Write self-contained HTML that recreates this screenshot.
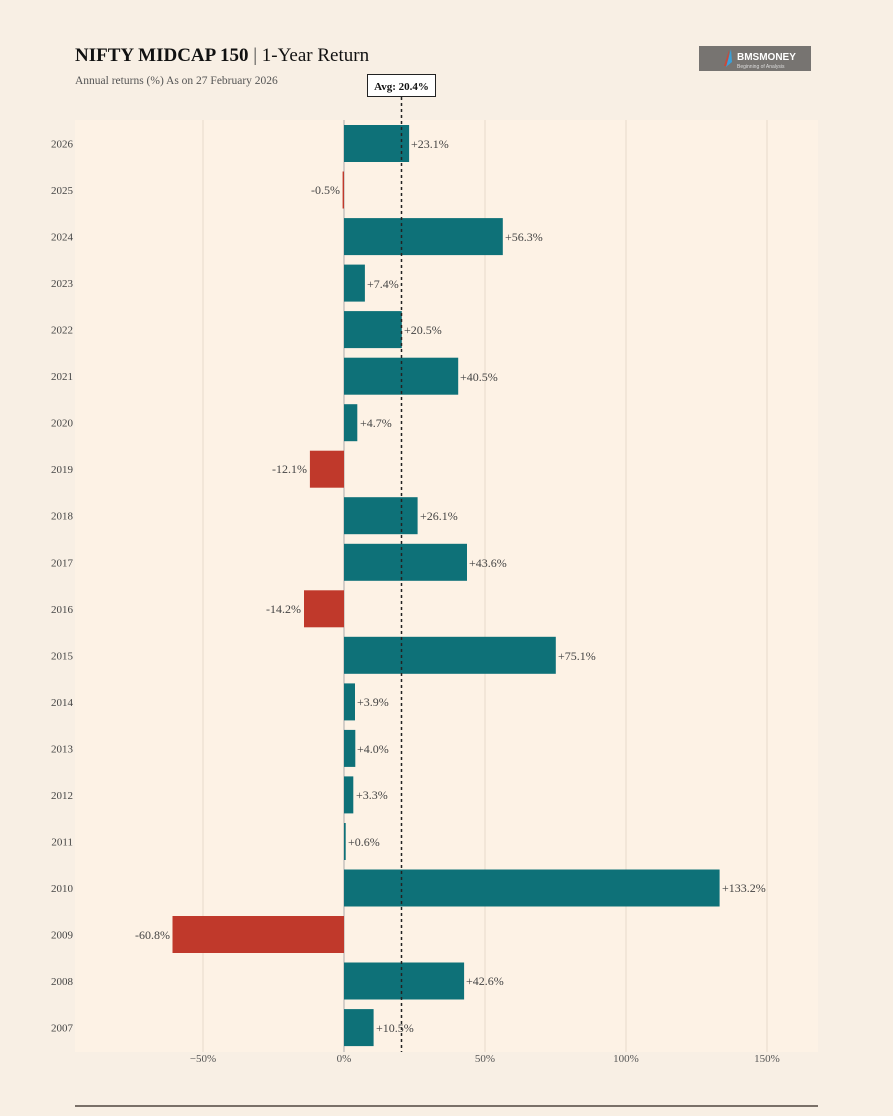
<!DOCTYPE html>
<html><head><meta charset="utf-8"><style>
html,body{margin:0;padding:0;background:#f8efe4;}
svg{display:block;font-family:"Liberation Serif",serif;}
</style></head><body>
<svg width="893" height="1116" viewBox="0 0 893 1116" xmlns="http://www.w3.org/2000/svg">
<rect x="0" y="0" width="893" height="1116" fill="#f8efe4"/>
<text x="75" y="61" font-size="19" font-weight="bold" fill="#111">NIFTY MIDCAP 150 <tspan font-weight="normal" fill="#444">|</tspan> <tspan font-weight="normal">1-Year Return</tspan></text>
<text x="75" y="84" font-size="11.5" fill="#555">Annual returns (%)   As on 27 February 2026</text>
<rect x="699" y="46" width="112" height="25" fill="#777471"/>
<path d="M729 50 L724 66 L728 66 Z" fill="#c84a3a"/><path d="M731 49 L726 67 L732 62 Z" fill="#3aa0d8"/>
<text x="737" y="60" font-size="10" font-family="Liberation Sans" font-weight="bold" fill="#fff">BMSMONEY</text>
<text x="737" y="68" font-size="5" font-family="Liberation Sans" fill="#ddd">Beginning of Analysis</text>
<rect x="75" y="120" width="743" height="932" fill="#fdf2e5"/>
<g stroke="#e6d9ca" stroke-width="1">
<line x1="203" y1="120" x2="203" y2="1052"/><line x1="485" y1="120" x2="485" y2="1052"/><line x1="626" y1="120" x2="626" y2="1052"/><line x1="767" y1="120" x2="767" y2="1052"/>
</g>
<line x1="344" y1="120" x2="344" y2="1052" stroke="#aaa" stroke-width="1"/>
<g font-size="11" fill="#555" text-anchor="middle">
<text x="203" y="1062">−50%</text><text x="344" y="1062">0%</text><text x="485" y="1062">50%</text><text x="626" y="1062">100%</text><text x="767" y="1062">150%</text>
</g>
<g font-size="11" fill="#444" text-anchor="end">
<text x="73" y="147.5">2026</text><text x="73" y="194">2025</text><text x="73" y="240.6">2024</text><text x="73" y="287.1">2023</text><text x="73" y="333.6">2022</text><text x="73" y="380.2">2021</text><text x="73" y="426.7">2020</text><text x="73" y="473.2">2019</text><text x="73" y="519.7">2018</text><text x="73" y="566.3">2017</text><text x="73" y="612.8">2016</text><text x="73" y="659.3">2015</text><text x="73" y="705.9">2014</text><text x="73" y="752.4">2013</text><text x="73" y="798.9">2012</text><text x="73" y="845.5">2011</text><text x="73" y="892">2010</text><text x="73" y="938.5">2009</text><text x="73" y="985">2008</text><text x="73" y="1031.6">2007</text>
</g>
<g fill="#0e7178">
<rect x="344" y="125" width="65.1" height="37"/>
<rect x="344" y="218.1" width="158.8" height="37"/>
<rect x="344" y="264.6" width="20.9" height="37"/>
<rect x="344" y="311.1" width="57.8" height="37"/>
<rect x="344" y="357.7" width="114.2" height="37"/>
<rect x="344" y="404.2" width="13.3" height="37"/>
<rect x="344" y="497.2" width="73.6" height="37"/>
<rect x="344" y="543.8" width="123" height="37"/>
<rect x="344" y="636.8" width="211.8" height="37"/>
<rect x="344" y="683.4" width="11" height="37"/>
<rect x="344" y="729.9" width="11.3" height="37"/>
<rect x="344" y="776.4" width="9.3" height="37"/>
<rect x="344" y="823" width="1.7" height="37"/>
<rect x="344" y="869.5" width="375.6" height="37"/>
<rect x="344" y="962.5" width="120.1" height="37"/>
<rect x="344" y="1009.1" width="29.6" height="37"/>
</g>
<g fill="#c0392b">
<rect x="342.6" y="171.5" width="1.4" height="37"/>
<rect x="309.9" y="450.7" width="34.1" height="37"/>
<rect x="304" y="590.3" width="40" height="37"/>
<rect x="172.5" y="916" width="171.5" height="37"/>
</g>
<line x1="401.5" y1="97" x2="401.5" y2="1052" stroke="#222" stroke-width="1.5" stroke-dasharray="3,3"/>
<rect x="367.5" y="74.5" width="68" height="22" fill="#fff" stroke="#222" stroke-width="1"/>
<text x="401.5" y="90" font-size="11" font-weight="bold" text-anchor="middle" fill="#111">Avg: 20.4%</text>
<g font-size="12" fill="#444">
<text x="411" y="148">+23.1%</text>
<text x="505" y="241">+56.3%</text>
<text x="367" y="288">+7.4%</text>
<text x="404" y="334">+20.5%</text>
<text x="460" y="381">+40.5%</text>
<text x="360" y="427">+4.7%</text>
<text x="420" y="520">+26.1%</text>
<text x="469" y="567">+43.6%</text>
<text x="558" y="660">+75.1%</text>
<text x="357" y="706">+3.9%</text>
<text x="357" y="753">+4.0%</text>
<text x="356" y="799">+3.3%</text>
<text x="348" y="846">+0.6%</text>
<text x="722" y="892">+133.2%</text>
<text x="466" y="985">+42.6%</text>
<text x="376" y="1032">+10.5%</text>
</g>
<g font-size="12" fill="#444" text-anchor="end">
<text x="340" y="194">-0.5%</text>
<text x="307" y="473">-12.1%</text>
<text x="301" y="613">-14.2%</text>
<text x="170" y="939">-60.8%</text>
</g>
<line x1="75" y1="1106" x2="818" y2="1106" stroke="#7a7068" stroke-width="2"/>
</svg>
</body></html>
